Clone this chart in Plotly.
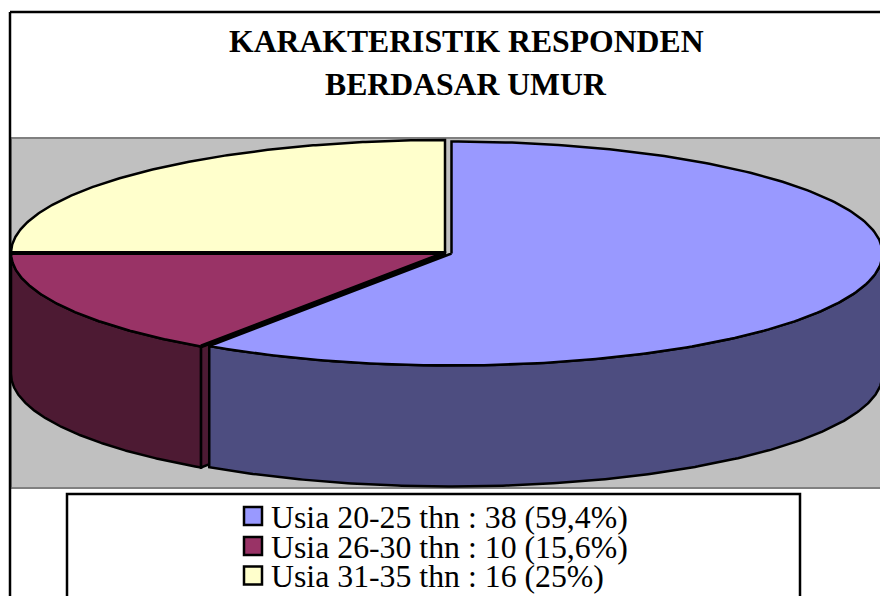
import numpy as np
import plotly.graph_objects as go

labels = ["Usia 20-25 thn : 38 (59,4%)", "Usia 26-30 thn : 10 (15,6%)", "Usia 31-35 thn : 16 (25%)"]
values = [38, 10, 16]
top_colors = ["#9999FF", "#993366", "#FFFFCC"]
side_colors = ["#4D4D80", "#4D1A33", "#808066"]
title_lines = ["KARAKTERISTIK RESPONDEN", "BERDASAR UMUR"]

# the axes are in page pixels, y going down
CX, CY = 445, 253
RX, RY = 434, 113
DEPTH = 121
# the first slice is pulled out a little to the right
SHIFT = [(6.5, 0.5), (0, 0), (0, 0)]
RADII = [(431, 112), (RX, RY), (RX, RY)]

def rim(i, t0, t1):
    t = np.radians(np.linspace(t0, t1, 240))
    x = CX + SHIFT[i][0] + RADII[i][0] * np.sin(t)
    y = CY + SHIFT[i][1] - RADII[i][1] * np.cos(t)
    return x, y

def add_poly(fig, x, y, fill, width):
    fig.add_trace(go.Scatter(x=list(x) + [x[0]], y=list(y) + [y[0]], mode="lines", fill="toself",
                             fillcolor=fill, line=dict(color="black", width=width),
                             hoverinfo="skip", showlegend=False))

def add_wall(fig, i, t0, t1):
    x, y = rim(i, t0, t1)
    add_poly(fig, np.r_[x, x[::-1]], np.r_[y, y[::-1] + DEPTH], side_colors[i], 2.5)

total = sum(values)
edges = np.cumsum([0] + values) / total * 360
edges[1] += 0.45  # the original renderer lands slightly past the exact angle

fig = go.Figure()

# walls first, front slices cover them
add_wall(fig, 1, max(edges[1], 90), min(edges[2], 270))
# cut face of the second slice, shows through the gap
mx, my = rim(1, edges[1], edges[1])
add_poly(fig, [mx[0], CX, CX, mx[0]], [my[0], CY, CY + DEPTH, my[0] + DEPTH], side_colors[1], 2.5)
add_wall(fig, 0, max(edges[0], 90), min(edges[1], 270))

# tops
for i in [0, 1, 2]:
    x, y = rim(i, edges[i], edges[i + 1])
    cx = CX + SHIFT[i][0]
    cy = CY + SHIFT[i][1]
    add_poly(fig, np.r_[cx, x], np.r_[cy, y], top_colors[i], 2.5)

# the two cut lines of the second slice are heavier
ex0, ey0 = rim(1, edges[1], edges[1])
ex1, ey1 = rim(1, edges[2], edges[2])
fig.add_trace(go.Scatter(x=[ex0[0], CX, ex1[0]], y=[ey0[0], CY, ey1[0]], mode="lines",
                         line=dict(color="black", width=4), hoverinfo="skip", showlegend=False))

# legend swatches
legend_y = [516, 546, 575.5]
fig.add_trace(go.Scatter(x=[253] * 3, y=legend_y, mode="markers",
                         marker=dict(symbol="square", size=18, color=top_colors,
                                     line=dict(color="black", width=2.5)),
                         hoverinfo="skip", showlegend=False))
for lab, ly in zip(labels, legend_y):
    fig.add_annotation(x=269, y=ly + 1, text=lab, showarrow=False, xanchor="left", yanchor="middle",
                       font=dict(family="Liberation Serif", size=31.8, color="black"))

for line, ty in zip(title_lines, [41, 84]):
    fig.add_annotation(x=466, y=ty, text="<b>" + line + "</b>", showarrow=False, xanchor="center", yanchor="middle",
                       font=dict(family="Liberation Serif", size=31.7, color="black"))

shapes = [
    dict(type="rect", x0=11, x1=885, y0=138, y1=488, fillcolor="#C0C0C0",
         line=dict(color="#808080", width=2), layer="below"),
    dict(type="line", x0=10, x1=10, y0=12, y1=600, line=dict(color="black", width=2.5), layer="above"),
    dict(type="line", x0=10, x1=885, y0=12, y1=12, line=dict(color="black", width=2.5), layer="above"),
    dict(type="rect", x0=67, x1=800, y0=494, y1=610, fillcolor="white",
         line=dict(color="black", width=2.5), layer="below"),
]

fig.update_layout(
    width=880, height=596, autosize=False,
    margin=dict(l=0, r=0, t=0, b=0),
    paper_bgcolor="white", plot_bgcolor="white",
    xaxis=dict(range=[0, 880], visible=False, fixedrange=True),
    yaxis=dict(range=[596, 0], visible=False, fixedrange=True),
    shapes=shapes,
    showlegend=False,
)

fig.write_html("out.html", config={"displayModeBar": False},
               post_script="document.body.style.margin='0';document.body.style.overflow='hidden';")
